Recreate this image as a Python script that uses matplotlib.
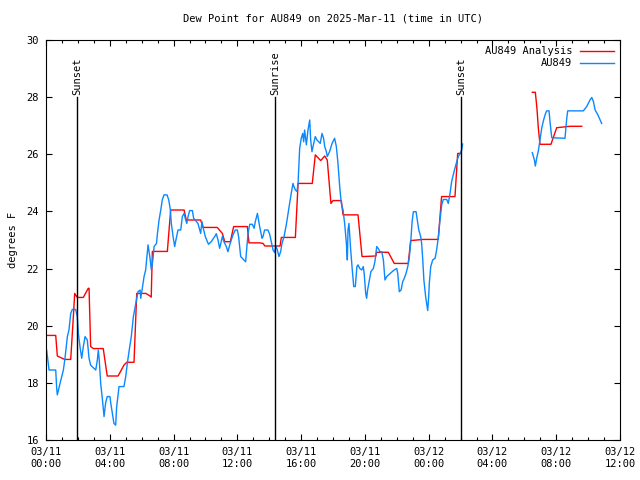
import numpy as np
import pandas as pd
import matplotlib
matplotlib.use('Agg')
import matplotlib.pyplot as plt
import matplotlib.dates as mdates

# hours after 2025-03-11 00:00 UTC, NaN marks the data gap
ana_hours = [0.04, 0.61, 0.71, 1.17, 1.55, 1.69, 1.80, 1.96, 2.34, 2.65, 2.70, 2.80, 2.97,
             3.59, 3.84, 4.52, 4.89, 5.06, 5.52, 5.69, 6.27, 6.52, 6.60, 6.67, 7.61, 7.82,
             8.66, 8.80, 9.70, 9.85, 10.74, 11.06, 11.21, 11.56, 11.77, 12.63, 12.73, 13.42,
             13.61, 13.73, 14.68, 14.76, 15.64, 15.81, 16.70, 16.89, 17.23, 17.48, 17.64,
             17.87, 18.00, 18.52, 18.63, 19.57, 19.82, 20.69, 20.74, 21.47, 21.84, 22.72,
             22.87, 23.66, 24.60, 24.81, 25.65, 25.82, 26.03, 28.0,
             30.50, 30.69, 30.79, 30.88, 30.98, 31.67, 32.03, 32.87, 33.60]
ana_vals = [19.66, 19.66, 18.94, 18.82, 18.82, 20.08, 21.13, 20.99, 20.99, 21.31, 21.31, 19.27, 19.2,
            19.2, 18.24, 18.24, 18.62, 18.72, 18.72, 21.13, 21.13, 21.04, 21.0, 22.6, 22.6, 24.05,
            24.05, 23.7, 23.7, 23.44, 23.44, 23.23, 22.94, 22.94, 23.47, 23.47, 22.9, 22.9,
            22.88, 22.79, 22.79, 23.09, 23.09, 24.98, 24.98, 25.98, 25.78, 25.94, 25.8,
            24.28, 24.38, 24.38, 23.88, 23.88, 22.42, 22.44, 22.57, 22.57, 22.18, 22.18,
            22.98, 23.02, 23.02, 24.52, 24.52, 26.03, 26.03, np.nan,
            28.17, 28.17, 27.61, 26.91, 26.35, 26.35, 26.93, 26.98, 26.98]

obs_hours = [0.04, 0.19, 0.61, 0.67, 0.71, 0.88, 1.09, 1.19, 1.34, 1.44, 1.55, 1.65, 1.86, 1.96,
             2.03, 2.13, 2.24, 2.34, 2.45, 2.59, 2.70, 2.80, 3.01, 3.12, 3.22, 3.28, 3.34, 3.43,
             3.53, 3.64, 3.74, 3.84, 4.01, 4.06, 4.16, 4.26, 4.37, 4.43, 4.52, 4.58, 4.89, 5.00,
             5.10, 5.22, 5.35, 5.48, 5.63, 5.77, 5.90, 5.94, 6.04, 6.15, 6.25, 6.40, 6.51, 6.61,
             6.70, 6.78, 6.93, 6.99, 7.09, 7.20, 7.29, 7.40, 7.59, 7.70, 7.80, 7.86, 7.97, 8.07,
             8.17, 8.28, 8.45, 8.55, 8.66, 8.76, 8.83, 8.91, 9.01, 9.18, 9.26, 9.43, 9.53, 9.64,
             9.70, 9.78, 9.87, 9.99, 10.12, 10.19, 10.36, 10.58, 10.68, 10.79, 10.89, 10.99,
             11.06, 11.16, 11.31, 11.41, 11.52, 11.62, 11.73, 11.87, 12.00, 12.08, 12.21, 12.36,
             12.52, 12.58, 12.67, 12.78, 12.94, 13.05, 13.13, 13.26, 13.40, 13.55, 13.61, 13.71,
             13.92, 14.03, 14.13, 14.24, 14.34, 14.41, 14.51, 14.61, 14.72, 14.80, 14.93, 15.07,
             15.18, 15.28, 15.38, 15.49, 15.55, 15.64, 15.74, 15.81, 15.91, 16.01, 16.10, 16.16,
             16.22, 16.33, 16.43, 16.54, 16.60, 16.68, 16.79, 16.89, 16.99, 17.10, 17.20, 17.31,
             17.41, 17.48, 17.58, 17.64, 17.79, 17.94, 18.10, 18.21, 18.31, 18.42, 18.52, 18.63,
             18.73, 18.84, 18.90, 18.94, 19.00, 19.11, 19.21, 19.30, 19.40, 19.50, 19.57, 19.68,
             19.80, 19.90, 19.96, 20.05, 20.11, 20.17, 20.28, 20.38, 20.53, 20.63, 20.74, 20.84,
             20.95, 21.06, 21.16, 21.26, 21.37, 21.47, 21.58, 21.79, 21.89, 22.00, 22.06, 22.16,
             22.27, 22.37, 22.47, 22.58, 22.69, 22.79, 22.87, 22.96, 23.04, 23.21, 23.29, 23.38,
             23.50, 23.56, 23.63, 23.70, 23.81, 23.87, 23.94, 24.00, 24.04, 24.13, 24.25, 24.40,
             24.50, 24.61, 24.71, 24.82, 24.92, 25.13, 25.23, 25.34, 25.44, 25.59, 25.76, 25.86,
             25.97, 26.07, 26.13, 28.0,
             30.50, 30.63, 30.69, 30.77, 30.88, 30.98, 31.09, 31.19, 31.30, 31.40, 31.55, 31.61,
             31.72, 32.55, 32.66, 32.72, 33.70, 33.91, 34.12, 34.23, 34.33, 34.44, 34.61, 34.75,
             34.85]
obs_vals = [19.15, 18.45, 18.45, 17.81, 17.58, 17.98, 18.45, 18.86, 19.62, 19.85, 20.43, 20.57, 20.57, 20.32,
            19.73, 19.27, 18.86, 19.27, 19.62, 19.5, 18.86, 18.62, 18.51, 18.45, 18.8, 19.15, 18.8, 17.98,
            17.46, 16.82, 17.3, 17.52, 17.52, 17.3, 16.93, 16.58, 16.52, 17.15, 17.58, 17.87, 17.87, 18.22,
            18.68, 19.15, 19.62, 20.32, 20.78, 21.19, 21.25, 20.96, 21.31, 21.72, 21.95, 22.83, 22.42, 21.95,
            22.3, 22.77, 22.88, 23.23, 23.7, 24.05, 24.4, 24.58, 24.58, 24.4, 24.05, 23.58, 23.12, 22.77,
            23.06, 23.35, 23.35, 23.82, 23.93, 23.7, 23.58, 23.82, 24.03, 24.03, 23.76, 23.65, 23.58, 23.35,
            23.23, 23.64, 23.4, 23.12, 22.94, 22.85, 22.94, 23.12, 23.22, 23.0, 22.71, 22.94,
            23.12, 22.94, 22.77, 22.59, 22.82, 23.0, 23.18, 23.35, 23.35, 23.12, 22.42, 22.33,
            22.24, 22.65, 23.23, 23.55, 23.55, 23.41, 23.65, 23.93, 23.47, 23.06, 23.12, 23.35,
            23.35, 23.2, 22.94, 22.65, 22.56, 22.8, 22.65, 22.42, 22.6, 22.88, 23.12, 23.53,
            23.93, 24.28, 24.63, 24.98, 24.87, 24.75, 24.7, 25.0, 26.21, 26.56, 26.73, 26.44,
            26.85, 26.33, 26.85, 27.2, 26.5, 26.09, 26.38, 26.62, 26.5, 26.44, 26.38, 26.73,
            26.56, 26.27, 26.1, 25.92, 26.1, 26.38, 26.56, 26.27, 25.69, 24.87, 24.28, 24.05,
            23.58, 22.88, 22.3, 23.35, 23.58, 22.65, 21.95, 21.37, 21.37, 22.07, 22.13, 22.0,
            21.95, 22.07, 21.8, 21.13, 20.96, 21.25, 21.6, 21.9, 22.0, 22.25, 22.77, 22.7,
            22.59, 22.59, 22.3, 21.6, 21.72, 21.77, 21.83, 21.93, 21.97, 22.0, 21.83, 21.19,
            21.25, 21.54, 21.66, 21.83, 22.07, 22.42, 22.88, 23.64, 23.99, 23.99, 23.7, 23.35,
            23.12, 22.88, 22.3, 21.6, 21.02, 20.79, 20.53, 21.0, 21.48, 22.07, 22.3, 22.36,
            22.65, 23.12, 23.7, 24.23, 24.42, 24.42, 24.28, 24.63, 25.04, 25.39, 25.74, 25.92,
            26.03, 26.15, 26.36, np.nan,
            26.06, 25.8, 25.59, 25.85, 26.12, 26.5, 26.91, 27.16, 27.38, 27.52, 27.52, 27.14,
            26.58, 26.56, 27.26, 27.52, 27.52, 27.67, 27.9, 27.99, 27.85, 27.55, 27.38, 27.2,
            27.08]

sun_hours = [1.94, 14.36, 26.03]
sun_labels = ['Sunset', 'Sunrise', 'Sunset']

start = pd.Timestamp('2025-03-11 00:00')
def to_time(hours):
    return start + pd.to_timedelta(hours, unit='h')

plt.rcParams['font.family'] = ['DejaVu Sans Mono']
plt.rcParams['font.size'] = 7.5

fig = plt.figure(figsize=(6.4, 4.8), dpi=100)
ax = fig.add_axes([46/640, 40/480, 574/640, 400/480])

ax.plot(to_time(np.array(ana_hours)), ana_vals, color='#ff0000', lw=1.0, label='AU849 Analysis')
ax.plot(to_time(np.array(obs_hours)), obs_vals, color='#0a88ff', lw=1.0, label='AU849')

for h, lab in zip(sun_hours, sun_labels):
    t = to_time(h)
    ax.plot([t, t], [16, 28.0], color='black', lw=1.0)
    ax.text(t, 28.08, lab, rotation=90, ha='center', va='bottom')

ax.set_xlim(start, start + pd.Timedelta(hours=36))
ax.set_ylim(16, 30)
ax.set_yticks(np.arange(16, 31, 2))
ax.xaxis.set_major_locator(mdates.HourLocator(byhour=range(0, 24, 4)))
ax.xaxis.set_minor_locator(mdates.HourLocator())
ax.xaxis.set_major_formatter(mdates.DateFormatter('%m/%d\n%H:%M'))
ax.tick_params(which='major', direction='in', length=4.5, width=0.8, top=True, right=True, pad=5)
ax.tick_params(which='minor', direction='in', length=2.5, width=0.8, top=True, right=True)
for s in ax.spines.values():
    s.set_linewidth(0.8)

ax.set_ylabel('degrees F', labelpad=6)
ax.set_title('Dew Point for AU849 on 2025-Mar-11 (time in UTC)', fontsize=7.5, pad=13)
ax.legend(loc='upper right', frameon=False, markerfirst=False, handlelength=3.2,
          handletextpad=0.8, borderaxespad=0.2, labelspacing=0.2)

fig.savefig('out.png', dpi=100)
